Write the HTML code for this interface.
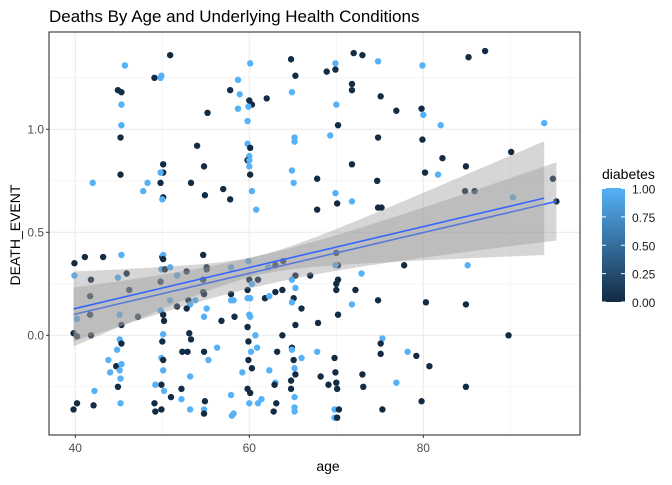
<!DOCTYPE html>
<html><head><meta charset="utf-8"><style>
body{margin:0;background:#fff;width:672px;height:480px;overflow:hidden;font-family:"Liberation Sans",sans-serif}
</style></head><body>
<svg id="chart" width="672" height="480" xmlns="http://www.w3.org/2000/svg">
<text x="49" y="22" font-size="17" fill="#000">Deaths By Age and Underlying Health Conditions</text>
<g id="grid"></g>
<g id="pts"></g>
<g id="smooth"></g>
<g id="axes"></g>
<text x="328" y="471" font-size="14" text-anchor="middle" fill="#000">age</text>
<text transform="translate(20,235) rotate(-90)" font-size="14" text-anchor="middle" fill="#000">DEATH_EVENT</text>
<g>
<text x="602" y="179" font-size="14" fill="#000">diabetes</text>
<defs><linearGradient id="lg" x1="0" y1="0" x2="0" y2="1"><stop offset="0" stop-color="#56B1F7"/><stop offset="1" stop-color="#132B43"/></linearGradient></defs>
<rect x="602" y="188" width="23" height="114" fill="url(#lg)"/>
<g id="leg"></g>
</g>
</svg>
<script>
const ages=[50.9,45.7,49.1,49.9,49.8,44.9,45.3,45.3,55.2,45.3,45.2,54.0,50.1,54.8,50.1,49.8,45.2,42.0,48.3,49.8,53.3,47.8,50.1,50.0,54.9,57.0,
60.1,64.8,72.0,73.0,74.8,69.9,68.9,69.9,65.3,58.7,57.8,58.9,64.9,71.8,71.8,60.0,60.3,59.9,62.0,58.7,70.0,75.1,76.9,59.8,70.2,65.2,65.2,69.3,74.8,59.8,60.1,60.0,59.8,60.0,60.0,60.1,64.9,71.8,67.8,74.7,65.1,60.3,57.8,60.8,67.8,70.1,69.9,71.8,74.8,75.2,
79.9,85.2,87.1,79.8,80.0,82.0,93.9,79.9,82.2,84.9,90.1,80.2,81.7,84.8,85.9,90.3,94.9,95.3,
39.9,41.1,43.2,45.3,39.9,41.8,45.9,44.9,41.7,46.2,40.2,41.7,45.1,45.3,47.2,39.8,40.2,41.8,45.1,45.3,44.8,43.8,44.7,45.3,45.1,44.0,45.2,44.9,42.2,40.2,39.8,42.1,45.2,
50.0,50.1,50.1,49.9,50.3,50.9,52.8,51.7,54.7,55.1,55.1,54.7,49.8,54.7,54.8,50.9,51.7,53.0,53.8,53.2,52.8,49.8,50.1,50.2,55.1,54.8,56.8,50.1,50.0,53.1,53.3,52.3,52.9,54.8,56.3,55.3,49.9,50.1,50.1,53.2,49.9,49.2,50.2,51.0,52.2,52.2,49.1,49.2,49.9,53.2,54.9,54.8,54.8,
57.9,59.9,63.9,63.0,62.2,70.0,70.2,69.9,60.0,60.3,61.0,65.3,67.0,64.9,65.3,70.0,70.2,70.0,72.9,77.8,57.9,57.9,58.2,59.8,59.8,60.1,61.8,62.3,63.0,63.8,65.1,64.9,66.0,72.2,71.8,74.8,70.2,67.9,65.3,58.3,60.0,60.1,59.8,60.7,63.8,59.9,60.9,60.2,63.2,64.9,64.9,65.1,66.0,67.8,69.8,75.3,75.1,75.1,78.2,59.9,60.3,59.2,62.3,65.2,65.3,63.0,62.9,64.8,64.8,65.2,68.2,69.1,69.9,70.0,70.1,73.0,73.1,76.9,59.8,60.1,57.9,60.0,61.0,61.4,63.1,62.8,58.0,58.2,65.2,65.2,69.8,69.8,70.1,70.3,75.3,
85.1,80.3,84.9,89.8,79.2,80.7,84.9,79.8];
const deaths=[1.36,1.31,1.25,1.26,1.25,1.19,1.18,1.12,1.08,1.02,0.96,0.92,0.83,0.82,0.79,0.79,0.78,0.74,0.74,0.74,0.74,0.70,0.67,0.66,0.68,0.71,
1.32,1.34,1.37,1.36,1.33,1.32,1.28,1.29,1.26,1.24,1.19,1.17,1.18,1.22,1.19,1.14,1.12,1.11,1.15,1.10,1.12,1.16,1.09,1.04,1.02,0.96,0.94,0.97,0.96,0.93,0.91,0.87,0.85,0.85,0.82,0.78,0.80,0.83,0.76,0.75,0.74,0.70,0.66,0.61,0.61,0.64,0.69,0.65,0.62,0.62,
1.31,1.35,1.38,1.10,1.07,1.02,1.03,0.95,0.86,0.82,0.89,0.79,0.78,0.70,0.70,0.67,0.76,0.65,
0.35,0.38,0.38,0.39,0.29,0.27,0.30,0.28,0.19,0.22,0.08,0.10,0.10,0.05,0.09,0.01,-0.005,0.0,-0.02,-0.04,-0.07,-0.12,-0.15,-0.14,-0.17,-0.18,-0.21,-0.25,-0.27,-0.33,-0.36,-0.34,-0.33,
0.38,0.39,0.37,0.32,0.32,0.33,0.31,0.29,0.39,0.33,0.32,0.27,0.26,0.21,0.20,0.17,0.14,0.17,0.17,0.15,0.13,0.12,0.10,0.07,0.13,0.09,0.07,0.005,-0.03,0.01,-0.02,-0.08,-0.08,-0.08,-0.06,-0.12,-0.11,-0.12,-0.17,-0.20,-0.24,-0.24,-0.27,-0.30,-0.26,-0.31,-0.33,-0.37,-0.36,-0.36,-0.32,-0.36,-0.38,
0.33,0.36,0.36,0.34,0.33,0.40,0.34,0.34,0.27,0.25,0.27,0.29,0.29,0.27,0.23,0.25,0.27,0.22,0.30,0.34,0.20,0.17,0.17,0.22,0.18,0.18,0.18,0.19,0.21,0.22,0.18,0.16,0.13,0.22,0.15,0.17,0.10,0.06,0.05,0.09,0.10,0.09,0.04,0.0,0.0,-0.03,-0.06,-0.08,-0.08,-0.06,-0.07,-0.12,-0.11,-0.08,-0.11,-0.015,-0.04,-0.09,-0.08,-0.12,-0.16,-0.18,-0.17,-0.16,-0.19,-0.23,-0.24,-0.22,-0.26,-0.30,-0.20,-0.24,-0.18,-0.23,-0.26,-0.19,-0.25,-0.23,-0.26,-0.28,-0.29,-0.33,-0.33,-0.31,-0.33,-0.37,-0.39,-0.38,-0.35,-0.37,-0.36,-0.40,-0.40,-0.36,-0.36,
0.34,0.16,0.15,0.0,-0.10,-0.15,-0.25,-0.32];
const diabetes=[0,1,0,1,1,0,0,1,0,1,0,0,0,0,0,1,0,1,1,0,0,1,0,1,0,0,
1,0,0,0,1,1,0,0,0,1,0,1,1,0,0,0,0,1,0,1,1,0,0,1,0,1,1,1,0,1,0,1,0,1,1,0,1,0,0,0,1,1,0,1,0,0,1,1,0,0,
1,0,0,0,1,1,1,0,0,0,0,0,1,0,0,1,0,0,
0,0,0,1,1,0,0,1,0,0,1,0,1,0,0,0,0,0,1,0,1,1,0,1,1,1,1,0,1,0,0,0,1,
0,1,0,1,0,1,0,1,0,0,0,0,0,0,0,1,0,0,1,1,0,1,0,0,1,1,0,1,0,0,0,0,0,0,1,1,1,0,1,1,0,1,1,0,0,1,0,0,0,1,0,1,0,
1,1,0,0,1,0,0,1,0,1,0,0,0,1,1,0,0,0,1,0,0,1,1,0,1,1,0,1,0,0,0,1,0,0,1,0,0,0,0,0,1,1,0,1,0,0,1,1,0,0,1,0,1,1,0,1,0,0,1,0,0,1,1,1,0,1,0,0,0,1,0,0,0,0,0,0,0,1,0,0,1,1,1,1,0,0,1,1,1,1,1,1,0,0,
0,1,0,0,0,0,0,0];
const xTicks=[40,60,80];
const yTicks=[0.0,0.5,1.0];
const yTickLabels=["0.0","0.5","1.0"];
const legTicks=[0,0.25,0.5,0.75,1];
const legLabels=["0.00","0.25","0.50","0.75","1.00"];
const fitA=[0.13,0.666,39.8,93.9];
const fitB=[0.103,0.65,39.8,95.3];
const seA=[0.047,0.00827,61];
const seB=[0.0735,0.00511,61];

const NS="http://www.w3.org/2000/svg";
const L=49,R=580,T=32,B=435;
const xs=a=>75.3+(a-40)*8.7;
const ys=v=>335.3-v*206;
function mk(tag,attrs,parent){const e=document.createElementNS(NS,tag);for(const k in attrs)e.setAttribute(k,attrs[k]);parent.appendChild(e);return e;}
const grid=document.getElementById('grid');
[50,70,90].forEach(a=>{const e=mk('line',{x1:xs(a),x2:xs(a),y1:T,y2:B,stroke:'#f0f0f0','stroke-width':0.6},grid);

});
[-0.25,0.25,0.75,1.25].forEach(v=>{const e=mk('line',{x1:L,x2:R,y1:ys(v),y2:ys(v),stroke:'#f0f0f0','stroke-width':0.6},grid);

});
xTicks.forEach(a=>{const e=mk('line',{x1:xs(a),x2:xs(a),y1:T,y2:B,stroke:'#ebebeb','stroke-width':1.1},grid);

});
yTicks.forEach(v=>{const e=mk('line',{x1:L,x2:R,y1:ys(v),y2:ys(v),stroke:'#ebebeb','stroke-width':1.1},grid);

});
const pts=document.getElementById('pts');
ages.forEach((a,i)=>{const c=mk('circle',{cx:xs(a),cy:ys(deaths[i]),r:3.2,fill:diabetes[i]?'#56B1F7':'#132B43'},pts);

});
const sm=document.getElementById('smooth');
function drawFit(fit,se,lineColor,name){
  const [y0,y1,a0,a1]=fit;const slope=(y1-y0)/(93.9-40);
  const f=a=>y0+(a-40)*slope;
  const h=a=>Math.sqrt(se[0]*se[0]+se[1]*se[1]*(a-se[2])*(a-se[2]));
  let up=[],lo=[];
  for(let k=0;k<=40;k++){const a=a0+(a1-a0)*k/40;up.push(xs(a)+','+ys(f(a)+h(a)));lo.unshift(xs(a)+','+ys(f(a)-h(a)));}
  const p=mk('polygon',{points:up.concat(lo).join(' '),fill:'#999999','fill-opacity':0.4},sm);
  
  
  const l=mk('line',{x1:xs(a0),y1:ys(f(a0)),x2:xs(a1),y2:ys(f(a1)),stroke:lineColor,'stroke-width':1.6},sm);
  
  
}
fitB[1]=fitB[0]+(fitB[1]-fitB[0])*(93.9-40)/(95.3-40);
drawFit(fitB,seB,'#3366FF','smooth-b');
drawFit(fitA,seA,'#3366FF','smooth-a');
const ax=document.getElementById('axes');
const br=mk('rect',{x:L,y:T,width:R-L,height:B-T,fill:'none',stroke:'#333','stroke-width':1.1},ax);


xTicks.forEach(a=>{mk('line',{x1:xs(a),x2:xs(a),y1:B,y2:B+3,stroke:'#333'},ax);
const t=mk('text',{x:xs(a),y:B+17,'font-size':12,'text-anchor':'middle',fill:'#4d4d4d'},ax);t.textContent=a;

});
yTicks.forEach((v,i)=>{mk('line',{x1:L-3,x2:L,y1:ys(v),y2:ys(v),stroke:'#333'},ax);
const t=mk('text',{x:L-5,y:ys(v)+4,'font-size':12,'text-anchor':'end',fill:'#4d4d4d'},ax);t.textContent=yTickLabels[i];

});
const leg=document.getElementById('leg');
legTicks.forEach((v,i)=>{const y=302-v*113.5;
mk('line',{x1:602,x2:606,y1:y,y2:y,stroke:'#fff'},leg);mk('line',{x1:621,x2:625,y1:y,y2:y,stroke:'#fff'},leg);
const t=mk('text',{x:632,y:y+5,'font-size':12,fill:'#1a1a1a'},leg);t.textContent=legLabels[i];

});
</script>
</body></html>
